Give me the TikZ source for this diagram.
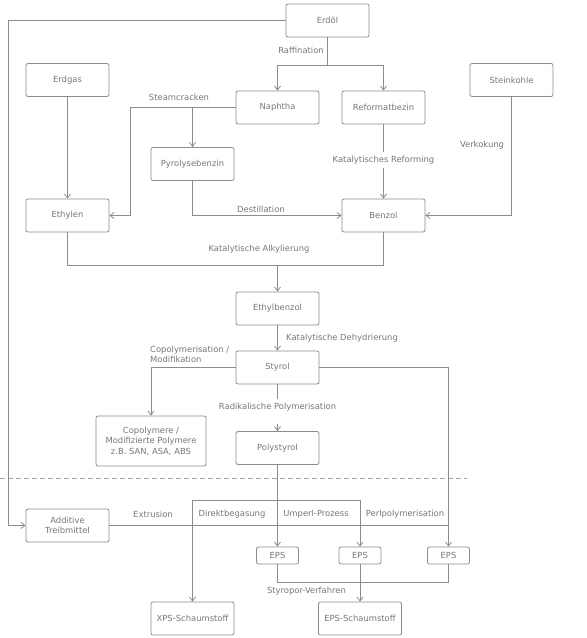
\documentclass[tikz,border=0pt]{standalone}
\usepackage{fontspec}
\setmainfont{DejaVu Sans}
\usetikzlibrary{arrows.meta}
\definecolor{linegray}{HTML}{8C8C8C}
\definecolor{txtgray}{HTML}{777777}
\definecolor{dashgray}{HTML}{A0A0A0}
\begin{document}
\begin{tikzpicture}[x=1pt,y=-1pt, font=\fontsize{8.4}{10.5}\selectfont,
 box/.style={draw=linegray, line width=0.8pt, rounded corners=2pt, minimum width=83pt, minimum height=33pt, inner sep=1pt, align=center, text=txtgray},
 smallbox/.style={box, minimum width=42pt, minimum height=17pt},
 lbl/.style={text=txtgray, inner sep=1pt},
 conn/.style={draw=linegray, line width=0.8pt},
 arr/.style={conn, -{Straight Barb[length=4pt,width=6pt]}}]
\useasboundingbox (0,0) rectangle (587,638);

% nodes
\node[box] (erdoel) at (327.5,20.5) {Erdöl};
\node[box] (erdgas) at (67.5,80) {Erdgas};
\node[box] (naphtha) at (277.5,107.5) {Naphtha};
\node[box] (reformat) at (383.5,107.5) {Reformatbezin};
\node[box] (steinkohle) at (511.5,80) {Steinkohle};
\node[box] (pyro) at (192.5,164) {Pyrolysebenzin};
\node[box] (ethylen) at (67.5,215.5) {Ethylen};
\node[box] (benzol) at (383.5,215.5) {Benzol};
\node[box] (ethylbenzol) at (277.5,308.5) {Ethylbenzol};
\node[box] (styrol) at (277.5,367.5) {Styrol};
\node[box, minimum width=110pt, minimum height=50pt] (copoly) at (151,441) {Copolymere /\\Modifizierte Polymere\\z.B. SAN, ASA, ABS};
\node[box] (polystyrol) at (277.5,448) {Polystyrol};
\node[box] (additive) at (67.5,525.5) {Additive\\Treibmittel};
\node[smallbox] (eps1) at (277.5,555.5) {EPS};
\node[smallbox] (eps2) at (360,555.5) {EPS};
\node[smallbox] (eps3) at (448.5,555.5) {EPS};
\node[box] (xps) at (192.5,618.5) {XPS-Schaumstoff};
\node[box] (epss) at (360,618.5) {EPS-Schaumstoff};

% labels
\node[lbl] (lraf) at (301,50) {Raffination};
\node[lbl] (lsc) at (179,97) {Steamcracken};
\node[lbl] (ldest) at (261,209) {Destillation};
\node[lbl] (lverk) at (482,145) {Verkokung};
\node[lbl] (lalk) at (259,249) {Katalytische Alkylierung};
\node[lbl, anchor=west] (ldeh) at (285,338) {Katalytische Dehydrierung};
\node[lbl, anchor=west, align=left] (lcop) at (149,354.5) {Copolymerisation /\\Modifikation};
\node[lbl] (lext) at (153,514) {Extrusion};
\node[lbl] (ldir) at (232,514) {Direktbegasung};
\node[lbl] (lump) at (316,514) {Umperl-Prozess};
\node[lbl] (lperl) at (405,514) {Perlpolymerisation};
\node[lbl] (lsty) at (306.5,591) {Styropor-Verfahren};

% helper coordinates
\coordinate (cl) at (8,0);
\coordinate (raf) at (327.5,65);
\coordinate (sc) at (130,0);
\coordinate (alk) at (0,265);
\coordinate (db) at (0,500);
\coordinate (sv) at (0,582);
\coordinate (radgap) at (277.5,424);

% dashed separator
\draw[dashgray, line width=0.8pt, dash pattern=on 5pt off 3pt] (0,478) -- (467,478);

% connectors
\draw[arr] (erdoel.west) -- (erdoel.west -| cl) |- (additive.west);
\draw[conn] (erdoel.south) -- (raf);
\draw[arr] (raf) -| (naphtha.north);
\draw[arr] (raf) -| (reformat.north);
\draw[arr] (erdgas) -- (ethylen);
\draw[arr] (naphtha.west) -- (naphtha.west -| sc) |- (ethylen.east);
\draw[arr] (naphtha.west -| pyro.north) -- (pyro.north);
\draw[arr] (pyro.south) |- (benzol.west);
\draw[arr] (reformat) -- (benzol);
\node[lbl, fill=white, inner ysep=4pt] (lref) at (383.5,160) {Katalytisches Reforming};
\draw[arr] (steinkohle.south) |- (benzol.east);
\draw[conn] (ethylen.south) -- (ethylen.south |- alk) -- (benzol.south |- alk) -- (benzol.south);
\draw[arr] (ethylbenzol.north |- alk) -- (ethylbenzol.north);
\draw[arr] (ethylbenzol) -- (styrol);
\draw[arr] (styrol.west) -| (copoly.north);
\node[lbl, fill=white, inner ysep=4pt] (lrad) at (277.5,407) {Radikalische Polymerisation};
\draw[conn] (styrol.south) -- (lrad.north);
\draw[arr] (radgap) -- (polystyrol.north);
\draw[arr] (styrol.east) -| (eps3.north);
\draw[arr] (polystyrol.south) -- (eps1.north);
\draw[arr] (eps2.north |- db) -| (xps.north);
\draw[arr] (eps2.north |- db) -- (eps2.north);
\draw[conn] (additive.east) -- (additive.east -| eps3.north);
\draw[conn] (eps1.south) -- (eps1.south |- sv) -- (eps3.south |- sv) -- (eps3.south);
\draw[arr] (eps2) -- (epss);
\end{tikzpicture}
\end{document}
